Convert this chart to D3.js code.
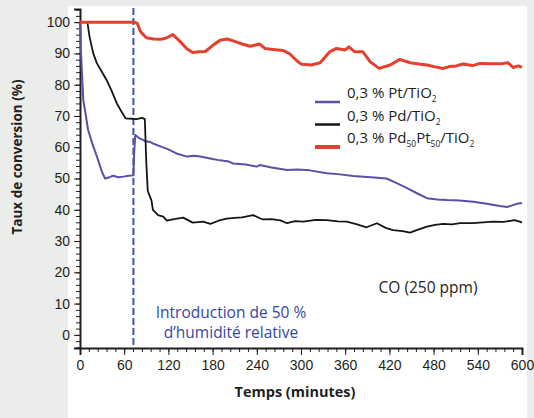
<!DOCTYPE html>
<html>
<head>
<meta charset="utf-8">
<script src="https://cdn.jsdelivr.net/npm/d3@7"></script>
<style>
  body { margin: 0; background: #ebedea; }
  svg { display: block; font-family: "Open Sans", "Noto Sans", sans-serif; }
  .axis path, .axis line { stroke: #231f20; }
  .axis text { font-size: 14px; fill: #231f20; }
</style>
</head>
<body>
<svg id="chart" width="534" height="418"></svg>
<script>
// time (min) / conversion (%)
const ptData = [[0,100],[1,92],[2.3,85.7],[4.5,75],[7,71.5],[11,65.5],[17,61],[23,57],[30,52],[34,50],[41,50.5],[45,50.9],[52,50.4],[59,50.6],[66,50.9],[72.5,51],[73.5,58],[75,63.9],[81,62.8],[88,62],[95,61.7],[99,61.2],[110,60.2],[120,59.3],[126,58.6],[131,58],[145,57],[155,57.3],[163,57],[175,56.5],[190,55.8],[202,55.4],[208,54.8],[225,54.5],[240,53.8],[244,54.3],[260,53.5],[281,52.7],[295,52.9],[312,52.6],[335,51.7],[350,51.4],[371,50.8],[395,50.4],[416,50],[430,48.5],[444,46.9],[458,45.2],[471,43.7],[485,43.3],[498,43.1],[515,43],[534,42.6],[550,42],[570,41.2],[580,40.9],[593,41.9],[600,42.2]];
const pdData = [[0,100],[10,100],[13,95.3],[18,90],[23,86.8],[30,84],[36,81.5],[43,78],[50,74],[56,71.5],[62,69.2],[70,69.1],[77,69],[84,69.4],[88,69],[90,55],[92,46],[97,43],[99,40],[106,38.3],[113,37.8],[118,36.5],[126,36.9],[140,37.5],[153,35.9],[167,36.2],[177,35.5],[188,36.5],[199,37.2],[210,37.4],[220,37.6],[235,38.3],[248,36.9],[260,37],[272,36.6],[281,35.7],[292,36.4],[303,36.2],[320,36.8],[335,36.7],[350,36.3],[362,36.2],[375,35.4],[389,34.4],[403,35.7],[415,34.2],[425,33.5],[438,33.2],[448,32.7],[457,33.5],[471,34.6],[482,35.2],[493,35.5],[505,35.3],[516,35.7],[533,35.7],[547,36],[561,36.2],[575,36.1],[590,36.7],[597,36.2],[600,35.9]];
const pdptData = [[0,100],[74,100],[78,99.5],[82,97],[90,95],[100,94.6],[110,94.5],[118,95],[126,96],[135,94],[145,91.5],[153,90.3],[162,90.5],[170,90.6],[180,92.5],[190,94.2],[200,94.6],[208,94],[220,93],[231,92.3],[244,93],[251,91.6],[265,91.2],[276,90.9],[285,89.8],[295,87.5],[301,86.5],[314,86.3],[326,87],[339,90.5],[348,91.6],[360,91.1],[365,92.1],[373,90.5],[384,90.5],[394,87.3],[406,85.2],[421,86.3],[434,88.1],[448,87],[460,86.6],[471,86.3],[482,85.7],[493,85.2],[502,85.8],[511,86],[520,86.6],[533,86.1],[543,86.8],[560,86.7],[574,86.8],[581,87],[588,85.5],[595,86],[600,85.5]];

const xTicks = [0, 60, 120, 180, 240, 300, 360, 420, 480, 540, 600];
const yTicks = [0, 10, 20, 30, 40, 50, 60, 70, 80, 90, 100];
const humidityTime = 72.5;

const series = [
  { label: ["0,3 % Pt/TiO", ["2"]], data: ptData, color: "#5b4fa6", width: 2 },
  { label: ["0,3 % Pd/TiO", ["2"]], data: pdData, color: "#151515", width: 1.8 },
  { label: ["0,3 % Pd", ["50"], "Pt", ["50"], "/TiO", ["2"]], data: pdptData, color: "#e5402e", width: 3 }
];

const svg = d3.select("#chart");

// white panel
svg.append("rect").attr("x", 68).attr("y", 6).attr("width", 459).attr("height", 412).attr("fill", "#fff");

const x = d3.scaleLinear().domain([0, 600]).range([80, 522]);
const y = d3.scaleLinear().domain([-4.2, 104.2]).range([348, 9]);

// axes: minor ticks first, then majors with labels
svg.append("g").attr("class", "axis").attr("transform", "translate(0,348)")
  .call(d3.axisBottom(x).tickValues(d3.range(0, 601, 12)).tickSize(4).tickFormat(""));
svg.append("g").attr("class", "axis").attr("transform", "translate(0,348)")
  .call(d3.axisBottom(x).tickValues(xTicks).tickSize(7).tickPadding(5).tickFormat(d3.format("d")))
  .call(g => g.select(".domain").attr("stroke-width", 2));

svg.append("g").attr("class", "axis").attr("transform", "translate(80,0)")
  .call(d3.axisLeft(y).tickValues(d3.range(-4, 105, 2)).tickSize(4).tickFormat(""));
svg.append("g").attr("class", "axis").attr("transform", "translate(80,0)")
  .call(d3.axisLeft(y).tickValues(yTicks).tickSize(6).tickPadding(4).tickFormat(d3.format("d")))
  .call(g => g.select(".domain").attr("stroke-width", 2));

// humidity marker
svg.append("line")
  .attr("x1", x(humidityTime)).attr("x2", x(humidityTime))
  .attr("y1", 8).attr("y2", 348)
  .attr("stroke", "#3a56ad").attr("stroke-width", 2)
  .attr("stroke-dasharray", "7,3");

// curves
const line = d3.line().x(d => x(d[0])).y(d => y(d[1]));
series.forEach(s => {
  svg.append("path").datum(s.data)
    .attr("fill", "none").attr("stroke", s.color)
    .attr("stroke-width", s.width).attr("stroke-linejoin", "round")
    .attr("d", line);
});

// legend
const legend = svg.append("g").attr("transform", "translate(315,102)");
series.forEach((s, i) => {
  const row = legend.append("g").attr("transform", `translate(0,${i * 22.5})`);
  row.append("line").attr("x1", 0).attr("x2", 25).attr("stroke", s.color)
    .attr("stroke-width", i === 2 ? 4 : 2.5);
  const t = row.append("text").attr("x", 32).attr("dy", "0.35em")
    .attr("font-size", 15).attr("fill", "#231f20");
  s.label.forEach(part => {
    if (Array.isArray(part)) {
      t.append("tspan").attr("font-size", 8.5).attr("dy", 4).text(part[0]);
    } else {
      t.append("tspan").attr("dy", t.selectAll("tspan").size() ? -4 : 0).text(part);
    }
  });
});

// annotations
const note = svg.append("text").attr("fill", "#3547a3").attr("font-size", 15.5).attr("text-anchor", "middle");
note.append("tspan").attr("x", 231).attr("y", 318).text("Introduction de 50 %");
note.append("tspan").attr("x", 231).attr("y", 338).text("d’humidité relative");

svg.append("text").attr("x", 428).attr("y", 293).attr("text-anchor", "middle")
  .attr("font-size", 15.5).attr("fill", "#231f20").text("CO (250 ppm)");

// axis titles
svg.append("text").attr("x", 295).attr("y", 397).attr("text-anchor", "middle")
  .attr("font-size", 14.5).attr("font-weight", "bold").attr("fill", "#231f20").text("Temps (minutes)");
svg.append("text").attr("transform", "translate(22,157) rotate(-90)").attr("text-anchor", "middle")
  .attr("font-size", 13.5).attr("font-weight", "bold").attr("fill", "#231f20").text("Taux de conversion (%)");
</script>
</body>
</html>
